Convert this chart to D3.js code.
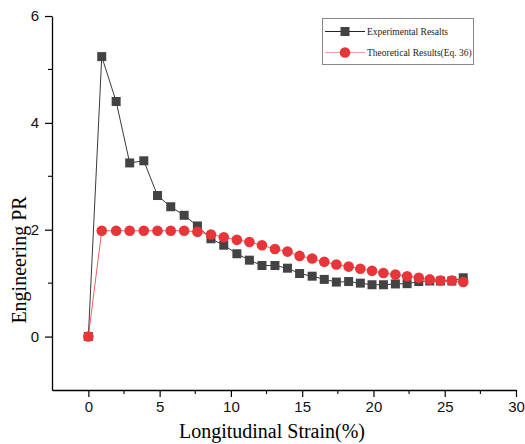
<!DOCTYPE html>
<html>
<head>
<meta charset="utf-8">
<script src="https://cdn.jsdelivr.net/npm/d3@7"></script>
<style>
  body { margin: 0; background: #fff; }
  .tick text { font-family: "Liberation Sans", Arial, sans-serif; }
</style>
</head>
<body>
<svg id="chart" width="525" height="444"></svg>
<script>
// strain (%) shared by both series
const strain = [0, 0.94, 1.95, 2.9, 3.89, 4.85, 5.78, 6.72, 7.65, 8.6, 9.5, 10.42, 11.3, 12.18,
  13.09, 13.97, 14.82, 15.7, 16.55, 17.4, 18.26, 19.08, 19.9, 20.7, 21.54, 22.36, 23.18,
  23.95, 24.7, 25.5, 26.3];
const experimental = [0, 5.24, 4.40, 3.25, 3.29, 2.64, 2.43, 2.27, 2.07, 1.83, 1.71, 1.55, 1.43,
  1.33, 1.33, 1.28, 1.18, 1.13, 1.07, 1.02, 1.03, 1.00, 0.97, 0.97, 0.985, 0.99, 1.03,
  1.04, 1.04, 1.04, 1.10];
const theoretical = [0, 1.98, 1.98, 1.98, 1.98, 1.98, 1.98, 1.98, 1.96, 1.91, 1.86, 1.81, 1.77,
  1.71, 1.64, 1.59, 1.51, 1.46, 1.40, 1.35, 1.31, 1.27, 1.23, 1.19, 1.16, 1.13, 1.10,
  1.07, 1.05, 1.05, 1.02];
const xTicks = [0, 5, 10, 15, 20, 25, 30];
const yTicks = [0, 2, 4, 6];
const seriesNames = ["Experimental Resalts", "Theoretical Results(Eq. 36)"];

const svg = d3.select("#chart");

const x = d3.scaleLinear().domain([-2.55, 30]).range([52, 516]);
const y = d3.scaleLinear().domain([-1, 6]).range([390, 16]);

const sqColor = "#434343";
const redColor = "#e8353a";

// axes
const xAxis = d3.axisBottom(x).tickValues(xTicks).tickFormat(d3.format("d"))
  .tickSize(7).tickPadding(4).tickSizeOuter(0);
const yAxis = d3.axisLeft(y).tickValues(yTicks).tickFormat(d3.format("d"))
  .tickSize(7).tickPadding(6).tickSizeOuter(0);

const gx = svg.append("g").attr("transform", `translate(0,${y(-1)})`).call(xAxis);
const gy = svg.append("g").attr("transform", `translate(${x(-2.55)},0)`).call(yAxis);

[gx, gy].forEach(g => {
  g.select(".domain").attr("stroke", "#000").attr("stroke-width", 1.3);
  g.selectAll(".tick line").attr("stroke", "#000").attr("stroke-width", 1.2);
  g.selectAll(".tick text").attr("font-size", 15).attr("fill", "#111");
});

// minor ticks
const xMinor = d3.range(2.5, 30, 5);
svg.append("g").selectAll("line").data(xMinor).enter().append("line")
  .attr("x1", d => x(d)).attr("x2", d => x(d))
  .attr("y1", y(-1)).attr("y2", y(-1) + 4)
  .attr("stroke", "#000").attr("stroke-width", 1.1);
const yMinor = [1, 3, 5];
svg.append("g").selectAll("line").data(yMinor).enter().append("line")
  .attr("x1", x(-2.55)).attr("x2", x(-2.55) - 4)
  .attr("y1", d => y(d)).attr("y2", d => y(d))
  .attr("stroke", "#000").attr("stroke-width", 1.1);

// axis titles
svg.append("text")
  .attr("x", 272).attr("y", 438)
  .attr("text-anchor", "middle")
  .attr("font-family", "'Liberation Serif', 'Times New Roman', serif")
  .attr("font-size", 20)
  .text("Longitudinal Strain(%)");

svg.append("text")
  .attr("transform", "translate(26,260) rotate(-90)")
  .attr("text-anchor", "middle")
  .attr("font-family", "'Liberation Serif', 'Times New Roman', serif")
  .attr("font-size", 20)
  .text("Engineering PR");

// series
const expData = strain.map((s, i) => ({x: s, y: experimental[i]}));
const theoData = strain.map((s, i) => ({x: s, y: theoretical[i]}));
const line = d3.line().x(d => x(d.x)).y(d => y(d.y));

svg.append("path").datum(expData)
  .attr("d", line).attr("fill", "none")
  .attr("stroke", "#222").attr("stroke-width", 0.9);

const sq = 9;
svg.append("g").selectAll("rect").data(expData).enter().append("rect")
  .attr("x", d => x(d.x) - sq / 2)
  .attr("y", d => y(d.y) - sq / 2)
  .attr("width", sq).attr("height", sq)
  .attr("fill", sqColor);

svg.append("path").datum(theoData)
  .attr("d", line).attr("fill", "none")
  .attr("stroke", redColor).attr("stroke-width", 0.8);

svg.append("g").selectAll("circle").data(theoData).enter().append("circle")
  .attr("cx", d => x(d.x))
  .attr("cy", d => y(d.y))
  .attr("r", 5.3)
  .attr("fill", redColor);

// legend
const lg = svg.append("g");
lg.append("rect")
  .attr("x", 322.5).attr("y", 18.5).attr("width", 151).attr("height", 46)
  .attr("fill", "#fff").attr("stroke", "#888").attr("stroke-width", 1);

const rowsY = [31.5, 52.5];
seriesNames.forEach((name, i) => {
  const ry = rowsY[i];
  lg.append("line")
    .attr("x1", 325).attr("x2", 365).attr("y1", ry).attr("y2", ry)
    .attr("stroke", i === 0 ? "#222" : "#f0a0a0").attr("stroke-width", 1);
  if (i === 0) {
    lg.append("rect").attr("x", 345 - 4.5).attr("y", ry - 4.5)
      .attr("width", 9).attr("height", 9).attr("fill", sqColor);
  } else {
    lg.append("circle").attr("cx", 345).attr("cy", ry).attr("r", 5.3).attr("fill", redColor);
  }
  lg.append("text")
    .attr("x", 367).attr("y", ry + 3.5)
    .attr("font-family", "'Liberation Serif', 'Times New Roman', serif")
    .attr("font-size", 9.5)
    .attr("fill", "#222")
    .text(name);
});
</script>
</body>
</html>
